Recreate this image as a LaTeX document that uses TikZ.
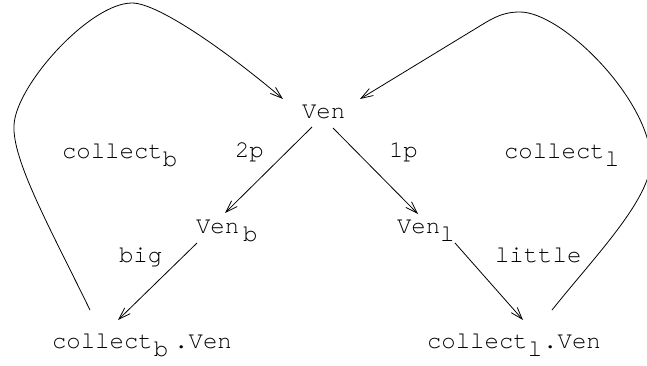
\documentclass[tikz,border=0pt]{standalone}
\usepackage{fontspec}
\setmonofont{TeX Gyre Cursor}
\usetikzlibrary{arrows.meta}
\newcommand{\lowsub}[1]{\raisebox{-8pt}{#1}}
\begin{document}
\begin{tikzpicture}[x=1pt,y=-1pt,
  lbl/.style={anchor=base west,inner sep=0pt,outer sep=0pt,
    font=\ttfamily\fontsize{24}{28}\selectfont},
  arr/.style={-{Straight Barb[length=12pt,width=8pt]},line width=0.8pt},
  loop/.style={line width=0.8pt}]
\useasboundingbox (0,0) rectangle (647,365);
% nodes
\node[lbl] (ven) at (302,118) {Ven};
\node[lbl] (colb) at (62,158) {collect\lowsub{b}};
\node[lbl] (twop) at (235,157) {2p};
\node[lbl] (onep) at (389,157) {1p};
\node[lbl] (coll) at (504,158) {collect\lowsub{l}};
\node[lbl] (venb) at (196,233) {Ven\hspace{4pt}\lowsub{b}};
\node[lbl] (big) at (119,262) {big};
\node[lbl] (venl) at (397,233) {Ven\lowsub{l}};
\node[lbl] (little) at (495,262) {little};
\node[lbl] (cbven) at (52,348) {collect\hspace{1pt}\lowsub{b}\hspace{6pt}.Ven};
\node[lbl] (clven) at (427,348) {collect\lowsub{l}\hspace{1pt}.Ven};
% connector end points
\coordinate (venSW) at (312,127);
\coordinate (venSE) at (333,128);
\coordinate (venbN) at (225,213);
\coordinate (venbS) at (197,243);
\coordinate (venlN) at (418,214);
\coordinate (venlS) at (455,243);
\coordinate (cbvenN) at (118,320);
\coordinate (clvenN) at (523,320);
\coordinate (cbvenL) at (90,310);
\coordinate (clvenR) at (552,310);
\coordinate (venL) at (283,99);
\coordinate (venR) at (360,99);
% arrows
\draw[arr] (venSW) -- (venbN);
\draw[arr] (venbS) -- (cbvenN);
\draw[arr] (venSE) -- (venlN);
\draw[arr] (venlS) -- (clvenN);
% loops
\draw[loop,-{Straight Barb[length=12pt,width=8pt]}] (cbvenL)
  .. controls (50,228) and (12,160) .. (14,125)
  .. controls (16,85) and (90,3) .. (132,3)
  .. controls (160,3) and (235,58) .. (venL);
\draw[loop,-{Straight Barb[length=12pt,width=8pt]}] (clvenR)
  .. controls (600,250) and (660,190) .. (650,150)
  .. controls (640,90) and (560,12) .. (520,12)
  .. controls (500,12) and (490,20) .. (470,32)
  -- (venR);
\end{tikzpicture}
\end{document}
